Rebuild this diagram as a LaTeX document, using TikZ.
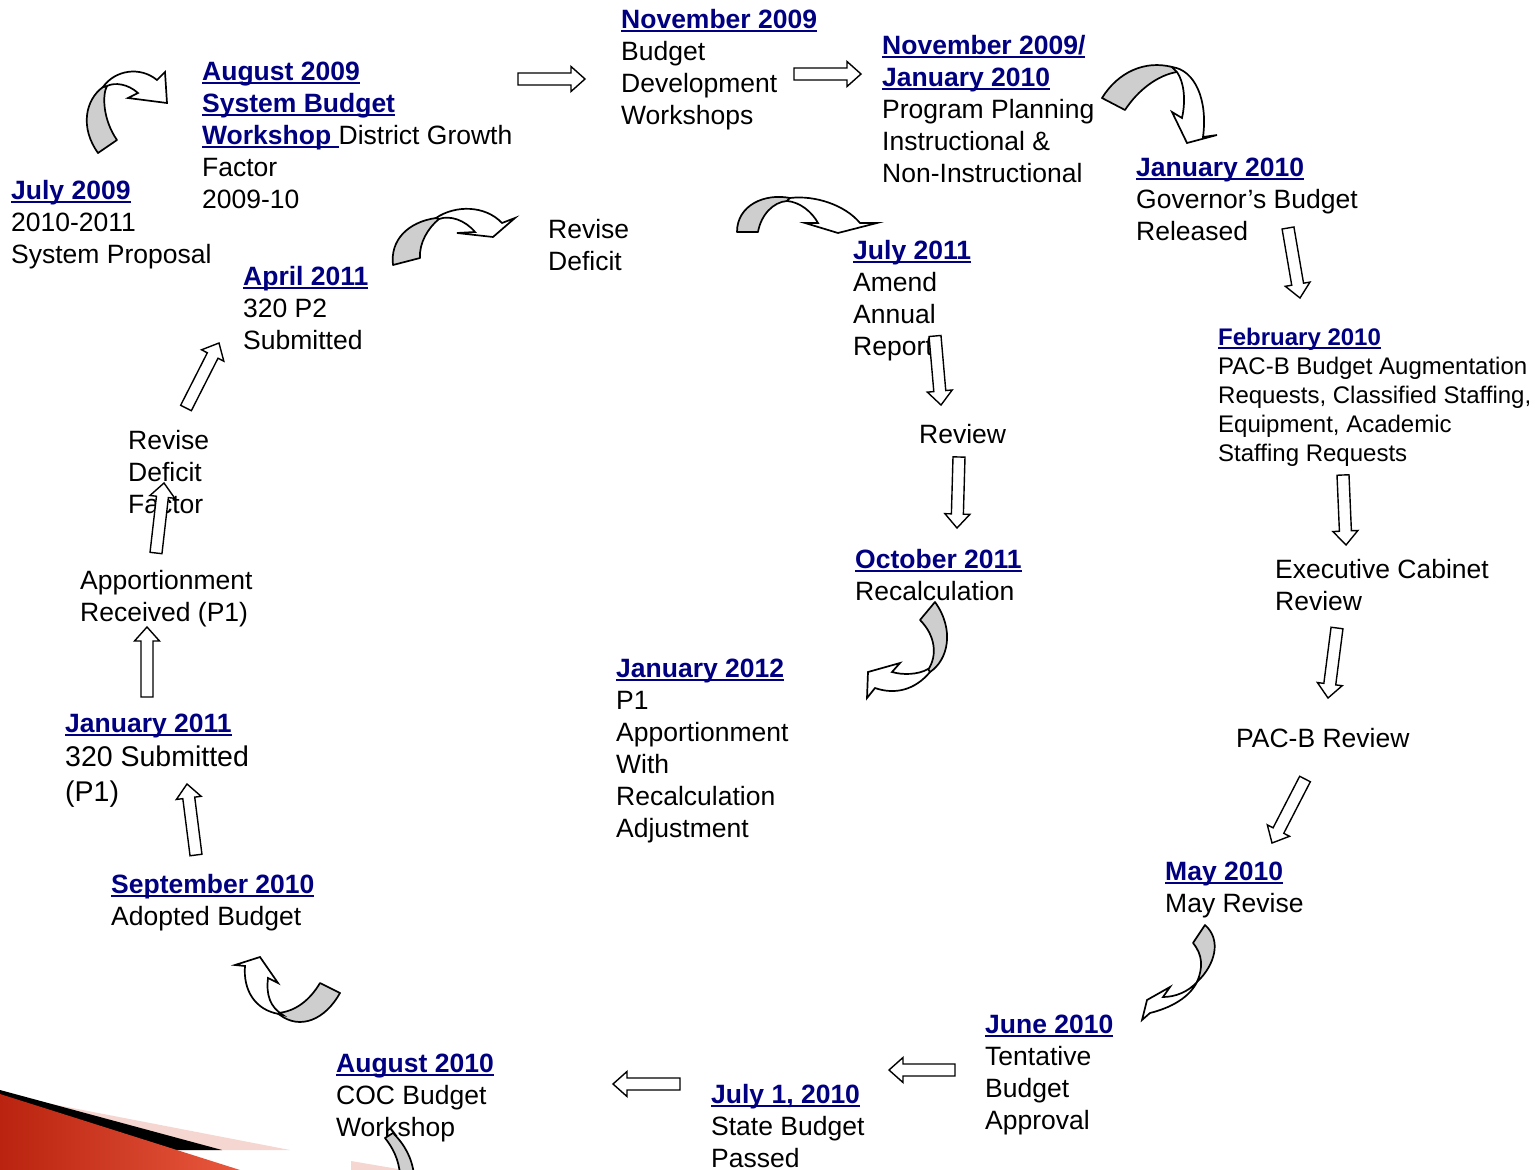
\documentclass[tikz,border=0pt]{standalone}
\usepackage{fontspec}
\setmainfont{Liberation Sans}
\usetikzlibrary{calc}
\definecolor{navy}{RGB}{0,0,128}
\definecolor{bandgray}{RGB}{206,206,206}
\definecolor{reddark}{RGB}{185,35,15}
\definecolor{redlight}{RGB}{232,88,62}
\definecolor{pinkish}{RGB}{246,214,208}
\newcommand\ttl[1]{{\color{navy}\bfseries\setbox0=\hbox{#1}\rlap{\rule[-3.5pt]{\wd0}{1.7pt}}\box0}}
\newcommand\blk[1]{\begin{tabular}[t]{@{}l@{}}#1\end{tabular}}
\newcommand\barrow[3]{%
  \coordinate (#1h) at ($(#3)!14pt!(#2)$);
  \draw[blockarrow] ($(#2)!6pt!90:(#3)$) -- ($(#1h)!6pt!90:(#3)$) -- ($(#1h)!12.5pt!90:(#3)$) -- (#3)
    -- ($(#1h)!12.5pt!-90:(#3)$) -- ($(#1h)!6pt!-90:(#3)$) -- ($(#2)!6pt!-90:(#3)$) -- cycle;}
\tikzset{
  txt/.style={anchor=base west, inner sep=0pt, font=\fontsize{26.5}{32}\selectfont},
  smalltxt/.style={anchor=base west, inner sep=0pt, font=\fontsize{24}{29}\selectfont},
  blockarrow/.style={draw=black, line width=1.4pt, fill=white, line join=miter},
  gband/.style={draw=black, line width=1.7pt, fill=bandgray, line join=round},
  warr/.style={draw=black, line width=1.7pt, fill=white, line join=miter}
}
\begin{document}
\begin{tikzpicture}[x=1pt,y=-1pt]
\useasboundingbox (0,0) rectangle (1535,1170);
% ---------- decoration bottom left ----------
\fill[pinkish] (0,1094) -- (290,1150) -- (0,1150) -- cycle;
\fill[black] (0,1090) -- (222,1150) -- (0,1150) -- cycle;
\shade[left color=reddark, right color=redlight] (0,1094) -- (240,1170) -- (0,1170) -- cycle;
\fill[pinkish] (351,1161) -- (410,1171) -- (351,1171) -- cycle;
% ---------- texts ----------
\node[txt] (nov09) at (621,28) {\blk{\ttl{November 2009}\\Budget\\Development\\Workshops}};
\node[txt] (novjan) at (882,54) {\blk{\ttl{November 2009/}\\\ttl{January 2010}\\Program Planning\\Instructional \&\\Non-Instructional}};
\node[txt] (aug09) at (202,80) {\blk{\ttl{August 2009}\\\ttl{System Budget}\\\ttl{Workshop }District Growth\\Factor\\2009-10}};
\node[txt] (jul09) at (11,199) {\blk{\ttl{July 2009}\\2010-2011\\System Proposal}};
\node[txt] (jan10) at (1136,176) {\blk{\ttl{January 2010}\\Governor’s Budget\\Released}};
\node[txt] (revdef) at (548,238) {\blk{Revise\\Deficit}};
\node[txt] (jul11) at (853,259) {\blk{\ttl{July 2011}\\Amend\\Annual\\Report}};
\node[txt] (apr11) at (243,285) {\blk{\ttl{April 2011}\\320 P2\\Submitted}};
\node[smalltxt] (feb10) at (1218,345) {\blk{\ttl{February 2010}\\PAC-B Budget Augmentation\\Requests, Classified Staffing,\\Equipment, Academic\\Staffing Requests}};
\node[txt] (review) at (919,443) {Review};
\node[txt] (revdeff) at (128,449) {\blk{Revise\\Deficit\\Factor}};
\node[txt] (oct11) at (855,568) {\blk{\ttl{October 2011}\\Recalculation}};
\node[txt] (exec) at (1275,578) {\blk{Executive Cabinet\\Review}};
\node[txt] (appor) at (80,589) {\blk{Apportionment\\Received (P1)}};
\node[txt] (jan12) at (616,677) {\blk{\ttl{January 2012}\\P1\\Apportionment\\With\\Recalculation\\Adjustment}};
\node[txt] (jan11) at (65,732) {\blk{\ttl{January 2011}\\[2pt]{\fontsize{28.5}{34}\selectfont 320 Submitted}\\[3pt]{\fontsize{28.5}{34}\selectfont (P1)}}};
\node[txt] (pacb) at (1236,747) {PAC-B Review};
\node[txt] (may10) at (1165,880) {\blk{\ttl{May 2010}\\May Revise}};
\node[txt] (sep10) at (111,893) {\blk{\ttl{September 2010}\\Adopted Budget}};
\node[txt] (jun10) at (985,1033) {\blk{\ttl{June 2010}\\Tentative\\Budget\\Approval}};
\node[txt] (aug10) at (336,1072) {\blk{\ttl{August 2010}\\COC Budget\\Workshop}};
\node[txt] (jul110) at (711,1103) {\blk{\ttl{July 1, 2010}\\State Budget\\Passed}};
% ---------- straight block arrows ----------
\coordinate (a1s) at (518,79);   \coordinate (a1e) at (585,79);
\coordinate (a2s) at (794,74);   \coordinate (a2e) at (861,74);
\coordinate (a3s) at (1288,228); \coordinate (a3e) at (1300,298);
\coordinate (a4s) at (935,336);  \coordinate (a4e) at (941,405);
\coordinate (a5s) at (959,457);  \coordinate (a5e) at (957,528);
\coordinate (a6s) at (1343,475); \coordinate (a6e) at (1346,545);
\coordinate (a7s) at (1337,628); \coordinate (a7e) at (1328,698);
\coordinate (a8s) at (1305,779); \coordinate (a8e) at (1272,843);
\coordinate (a9s) at (955,1070); \coordinate (a9e) at (889,1070);
\coordinate (a10s) at (680,1084); \coordinate (a10e) at (613,1084);
\coordinate (a11s) at (196,855); \coordinate (a11e) at (187,784);
\coordinate (a12s) at (147,697); \coordinate (a12e) at (147,627);
\coordinate (a13s) at (156,553); \coordinate (a13e) at (164,483);
\coordinate (a14s) at (186,408); \coordinate (a14e) at (219,343);
\barrow{a1}{a1s}{a1e}
\barrow{a2}{a2s}{a2e}
\barrow{a3}{a3s}{a3e}
\barrow{a4}{a4s}{a4e}
\barrow{a5}{a5s}{a5e}
\barrow{a6}{a6s}{a6e}
\barrow{a7}{a7s}{a7e}
\barrow{a8}{a8s}{a8e}
\barrow{a9}{a9s}{a9e}
\barrow{a10}{a10s}{a10e}
\barrow{a11}{a11s}{a11e}
\barrow{a12}{a12s}{a12e}
\barrow{a13}{a13s}{a13e}
\barrow{a14}{a14s}{a14e}
% ---------- curved arrows ----------
% C1 top left
\draw[gband] (98,153) .. controls (80,128) and (85,100) .. (103,87) -- (107,86) .. controls (102,95) and (103,120) .. (117,140) -- cycle;
\draw[warr] (103,87) .. controls (115,70) and (140,66) .. (157,80) -- (165,72) -- (167,103) -- (128,98) -- (138,93) .. controls (128,84) and (115,82) .. (107,86) -- cycle;
% C2
\draw[gband] (393,265) .. controls (390,240) and (408,222) .. (436,218) -- (439,219) .. controls (428,228) and (419,243) .. (420,258) -- cycle;
\draw[warr] (436,218) .. controls (455,205) and (485,205) .. (502,223) -- (515,218) -- (493,237) -- (457,233) -- (475,232) .. controls (465,220) and (450,215) .. (439,219) -- cycle;
% C3
\draw[gband] (737,232) .. controls (737,205) and (765,193) .. (790,198) -- (787,201) .. controls (773,202) and (761,215) .. (758,232) -- cycle;
\draw[warr] (790,198) .. controls (815,195) and (845,205) .. (860,223) -- (877,223) -- (838,233) -- (805,223) -- (818,223) .. controls (812,212) and (800,202) .. (787,201) -- cycle;
% C4
\draw[gband] (1102,98) .. controls (1118,72) and (1145,60) .. (1172,67) -- (1177,72) .. controls (1158,75) and (1138,90) .. (1125,110) -- cycle;
\draw[warr] (1172,67) .. controls (1195,70) and (1208,100) .. (1203,137) -- (1217,135) -- (1187,143) -- (1172,112) -- (1182,118) .. controls (1186,100) and (1184,82) .. (1177,72) -- cycle;
% C5
\draw[gband] (920,620) -- (935,602) .. controls (955,630) and (948,660) .. (930,672) -- (928,670) .. controls (938,655) and (935,635) .. (920,620) -- cycle;
\draw[warr] (928,669) .. controls (918,675) and (902,675) .. (892,672) -- (900,663) -- (868,672) -- (867,698) -- (875,688) .. controls (895,695) and (915,690) .. (930,672) -- cycle;
% C6
\draw[gband] (1193,943) -- (1205,925) .. controls (1222,940) and (1215,965) .. (1197,982) .. controls (1203,968) and (1203,955) .. (1193,943) -- cycle;
\draw[warr] (1197,982) .. controls (1188,992) and (1175,997) .. (1163,997) -- (1170,987) -- (1147,1000) -- (1142,1020) -- (1150,1013) .. controls (1170,1008) and (1190,998) .. (1198,980) -- cycle;
% C7
\draw[gband] (320,983) -- (340,993) .. controls (325,1020) and (300,1030) .. (280,1015) -- (277,1013) .. controls (295,1012) and (310,1000) .. (320,983) -- cycle;
\draw[warr] (279,1014) .. controls (255,1010) and (243,990) .. (245,966) -- (235,965) -- (260,957) -- (278,983) -- (268,978) .. controls (266,995) and (270,1007) .. (283,1015) -- cycle;
% C8 bottom (cut off)
\draw[gband] (385,1138) -- (393,1133) .. controls (405,1145) and (412,1158) .. (414,1175) -- (400,1175) .. controls (399,1160) and (393,1148) .. (385,1138) -- cycle;
\end{tikzpicture}
\end{document}
